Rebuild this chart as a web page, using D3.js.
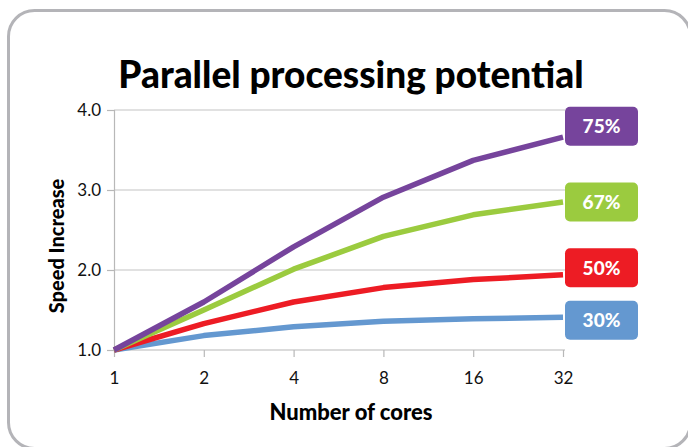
<!DOCTYPE html>
<html>
<head>
<meta charset="utf-8">
<script src="https://cdn.jsdelivr.net/npm/d3@7"></script>
<style>
  body { margin: 0; padding: 0; background: #fff; }
  svg { display: block; }
  text { font-family: "Lato", "Open Sans", sans-serif; }
</style>
</head>
<body>
<script>
// cores on the x axis, speedup per share of parallel code
var cores = ["1", "2", "4", "8", "16", "32"];
var yTicks = [1, 2, 3, 4];
var p30 = [1, 1.18, 1.29, 1.36, 1.39, 1.41];
var p50 = [1, 1.33, 1.60, 1.78, 1.88, 1.94];
var p67 = [1, 1.50, 2.01, 2.42, 2.69, 2.85];
var p75 = [1, 1.60, 2.29, 2.91, 3.37, 3.66];
var seriesNames = ["30%", "50%", "67%", "75%"];
var colors = ["#6498d0", "#ed1c24", "#9bcb3f", "#76449c"];

var series = [p30, p50, p67, p75].map(function(v, i) {
  return { name: seriesNames[i], values: v, color: colors[i] };
});

var width = 688, height = 447;
var svg = d3.select("body").append("svg")
    .attr("width", width)
    .attr("height", height);

// frame
svg.append("rect")
    .attr("x", 8.5).attr("y", 10.5)
    .attr("width", 682).attr("height", 438)
    .attr("rx", 26).attr("ry", 26)
    .attr("fill", "#fff")
    .attr("stroke", "#b4b4b8")
    .attr("stroke-width", 3);

svg.append("text")
    .attr("x", 351).attr("y", 88)
    .attr("text-anchor", "middle")
    .style("font-size", "37px")
    .style("font-weight", "900")
    .text("Parallel processing potential");

var x = d3.scalePoint().domain(cores).range([114, 563]);
var y = d3.scaleLinear().domain([1, 4]).range([350, 110]);

// gridlines
svg.append("g").selectAll("line")
  .data(yTicks.slice(1))
  .enter().append("line")
    .attr("x1", 114).attr("x2", 565)
    .attr("y1", function(d) { return y(d); })
    .attr("y2", function(d) { return y(d); })
    .attr("stroke", "#c4c4c4")
    .attr("stroke-width", 1.2);

var yAxis = svg.append("g")
    .attr("transform", "translate(114,0)")
    .call(d3.axisLeft(y).tickValues(yTicks).tickFormat(d3.format(".1f")).tickSize(7).tickPadding(6));

var xAxis = svg.append("g")
    .attr("transform", "translate(0,350)")
    .call(d3.axisBottom(x).tickSize(7).tickPadding(15));

[yAxis, xAxis].forEach(function(ax) {
  ax.select(".domain").attr("stroke", "#b8b8b8").attr("stroke-width", 1.2);
  ax.selectAll(".tick line").attr("stroke", "#b8b8b8").attr("stroke-width", 1.2);
  ax.selectAll(".tick text")
    .attr("fill", "#111")
    .style("font-size", "17px")
    .style("font-family", "Lato, sans-serif");
});
xAxis.select(".domain").attr("d", "M114,0H565");

svg.append("text")
    .attr("x", 351).attr("y", 420)
    .attr("text-anchor", "middle")
    .style("font-size", "22px")
    .style("font-weight", "900")
    .text("Number of cores");

svg.append("text")
    .attr("transform", "translate(64,246) rotate(-90)")
    .attr("text-anchor", "middle")
    .style("font-size", "20px")
    .style("font-weight", "900")
    .text("Speed Increase");

var line = d3.line()
    .x(function(d, i) { return x(cores[i]); })
    .y(function(d) { return y(d); });

svg.append("g").selectAll("path")
  .data(series)
  .enter().append("path")
    .attr("d", function(d) { return line(d.values); })
    .attr("fill", "none")
    .attr("stroke", function(d) { return d.color; })
    .attr("stroke-width", 5.5)
    .attr("stroke-linejoin", "round");

// label boxes, nudged off the last point so they don't collide
var nudge = { "30%": 3, "50%": -7, "67%": 0, "75%": -11 };
var lab = svg.append("g").selectAll("g")
  .data(series)
  .enter().append("g")
    .attr("transform", function(d) {
      var last = d.values[d.values.length - 1];
      return "translate(565," + (y(last) + nudge[d.name]) + ")";
    });

lab.append("rect")
    .attr("x", 0).attr("y", -19.5)
    .attr("width", 73).attr("height", 39)
    .attr("rx", 5)
    .attr("fill", function(d) { return d.color; });

lab.append("text")
    .attr("x", 36.5).attr("y", 7)
    .attr("text-anchor", "middle")
    .attr("fill", "#fff")
    .style("font-size", "19px")
    .style("font-weight", "900")
    .text(function(d) { return d.name; });
</script>
</body>
</html>
